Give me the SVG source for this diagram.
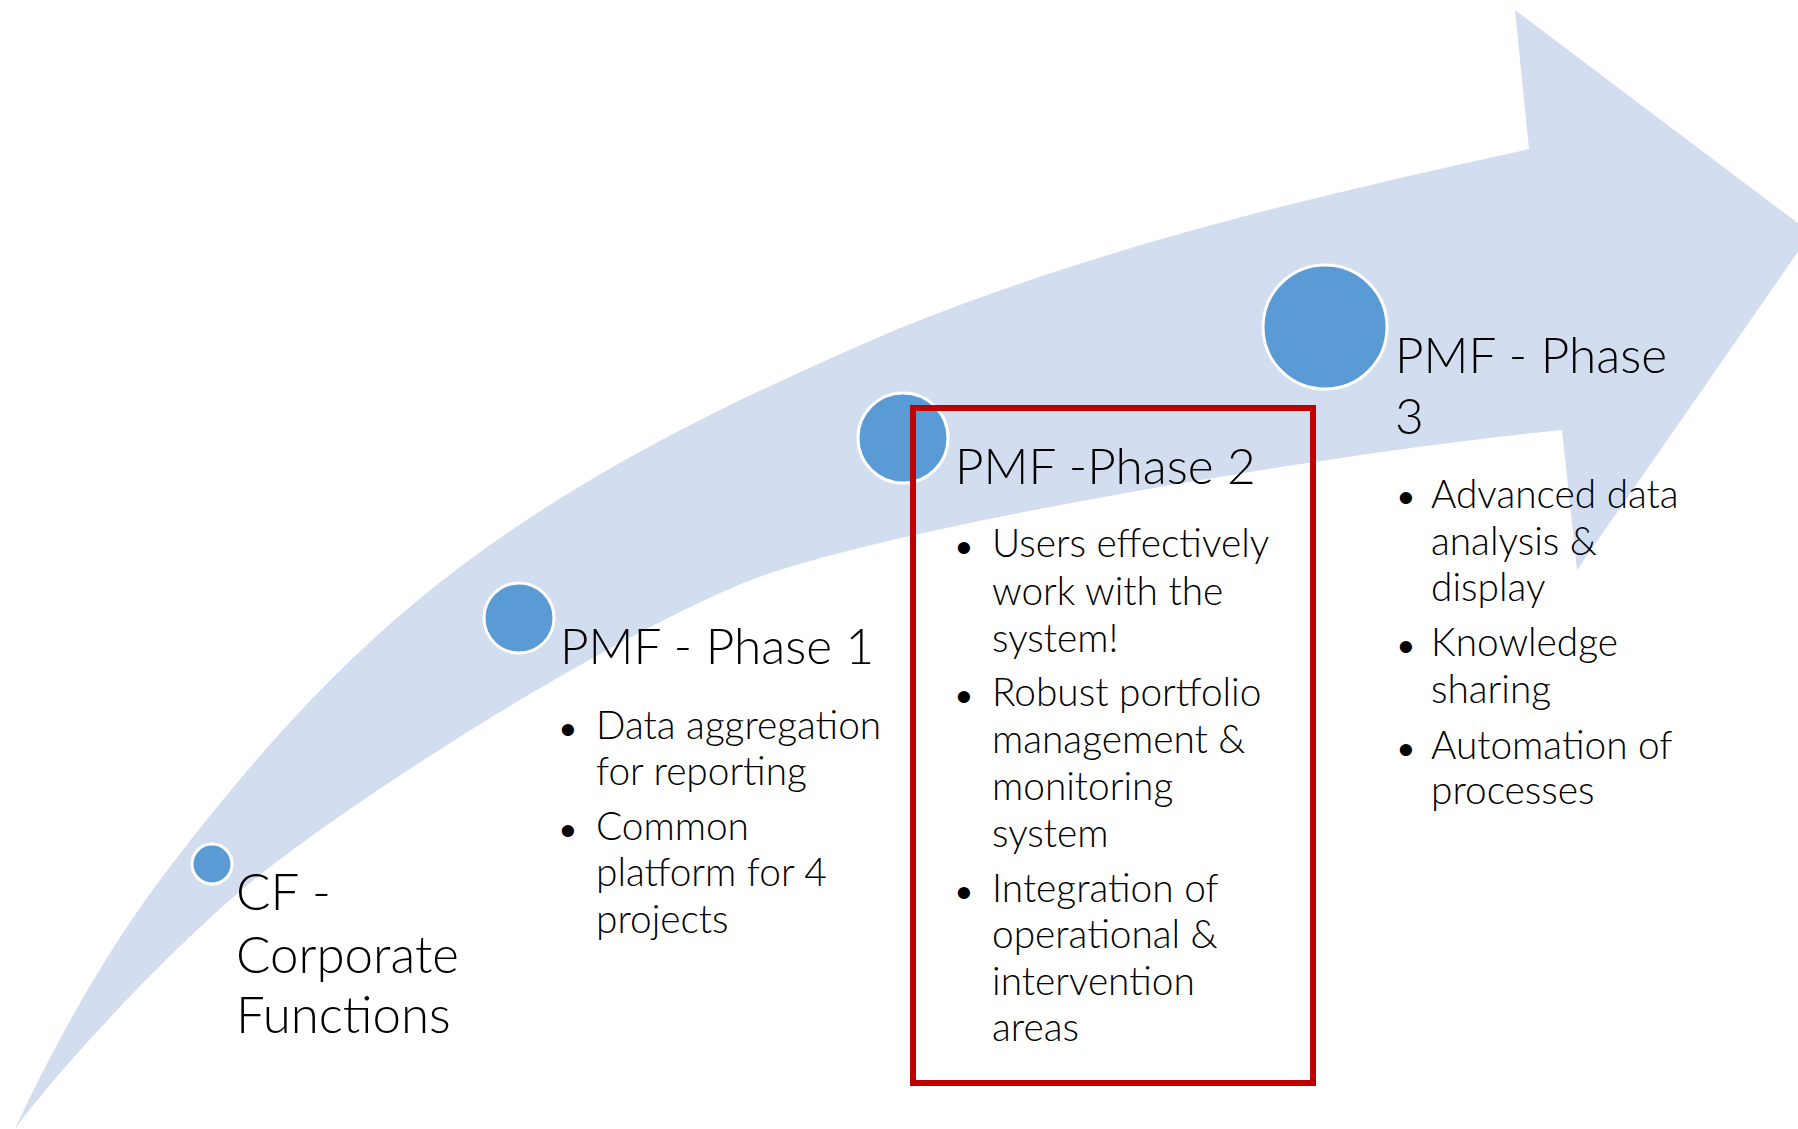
<svg xmlns="http://www.w3.org/2000/svg" width="1798" height="1129" viewBox="0 0 1798 1129">
<style>
  .band { fill: #D2DEEF; }
  .dot { fill: #5B9BD5; stroke: #FFFFFF; stroke-width: 3; }
  .hl { fill: none; stroke: #C00000; stroke-width: 6; }
  text { font-family: Lato, "Open Sans", "Liberation Sans", sans-serif; font-weight: 300; fill: #000000; }
  .cf { font-size: 51px; }
  .title { font-size: 49.5px; }
  .item { font-size: 38.8px; }
  .bul { font-family: "Liberation Sans", Arial, sans-serif; font-size: 45px; text-anchor: middle; font-weight: 400; }
</style>
<rect x="0" y="0" width="1798" height="1129" fill="#FFFFFF"/>
<g id="arrow-band">
  <path class="band" d="M 1529,149 L 1515,10 L 1811,233 L 1577,570 L 1562,430 C 1312,455 880,530 751,580 C 611,636 380,782 270,867 C 185,932 60,1067 15,1129 C 57,1038 111,943 172,864 C 248,765 324,678 418,600 C 570,475 740,397 900,328 C 1110,244 1319,195 1529,149 Z"/>
</g>
<g id="connectors"></g>
<g id="node-cf">
  <circle class="dot" cx="212" cy="864" r="20"/>
  <text class="cf"><tspan x="236" y="910">CF -</tspan><tspan x="236" y="973">Corporate</tspan><tspan x="236" y="1033">Functions</tspan></text>
</g>
<g id="node-phase1">
  <circle class="dot" cx="519" cy="618" r="35"/>
  <text class="title" x="560" y="664">PMF - Phase 1</text>
  <text class="bul" x="568" y="745">•</text>
  <text class="bul" x="568" y="846">•</text>
  <text class="item"><tspan x="596" y="739">Data aggregation</tspan><tspan x="596" y="785">for reporting</tspan><tspan x="596" y="840">Common</tspan><tspan x="596" y="886">platform for 4</tspan><tspan x="596" y="933">projects</tspan></text>
</g>
<g id="node-phase2">
  <circle class="dot" cx="903" cy="438" r="45"/>
  <rect class="hl" x="913" y="408" width="400" height="675"/>
  <text class="title" x="955" y="484">PMF -Phase 2</text>
  <text class="bul" x="964" y="563">•</text>
  <text class="bul" x="964" y="712">•</text>
  <text class="bul" x="964" y="908">•</text>
  <text class="item"><tspan x="992" y="557">Users effectively</tspan><tspan x="992" y="605">work with the</tspan><tspan x="992" y="652">system!</tspan><tspan x="992" y="706">Robust portfolio</tspan><tspan x="992" y="753">management &amp;</tspan><tspan x="992" y="800">monitoring</tspan><tspan x="992" y="847">system</tspan><tspan x="992" y="902">Integration of</tspan><tspan x="992" y="948">operational &amp;</tspan><tspan x="992" y="995">intervention</tspan><tspan x="992" y="1041">areas</tspan></text>
</g>
<g id="node-phase3">
  <circle class="dot" cx="1325" cy="327" r="62"/>
  <text class="title"><tspan x="1395" y="373">PMF - Phase</tspan><tspan x="1395" y="434">3</tspan></text>
  <text class="bul" x="1406" y="513">•</text>
  <text class="bul" x="1406" y="662">•</text>
  <text class="bul" x="1406" y="765">•</text>
  <text class="item"><tspan x="1431" y="508">Advanced data</tspan><tspan x="1431" y="555">analysis &amp;</tspan><tspan x="1431" y="601">display</tspan><tspan x="1431" y="656">Knowledge</tspan><tspan x="1431" y="703">sharing</tspan><tspan x="1431" y="759">Automation of</tspan><tspan x="1431" y="804">processes</tspan></text>
</g>
</svg>
